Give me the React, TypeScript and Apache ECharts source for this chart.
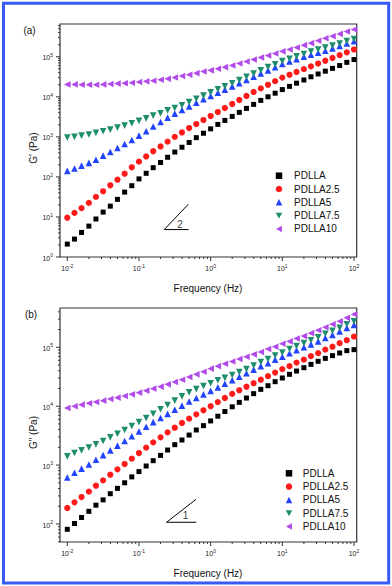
import React, { useEffect, useRef } from 'react';
import * as echarts from 'echarts';

// ---------- data ----------
const freqs = [
  0.01, 0.0126, 0.0158, 0.02, 0.0251, 0.0316, 0.0398, 0.0501, 0.0631, 0.0794,
  0.1, 0.126, 0.158, 0.2, 0.251, 0.316, 0.398, 0.501, 0.631, 0.794,
  1, 1.26, 1.58, 2, 2.51, 3.16, 3.98, 5.01, 6.31, 7.94,
  10, 12.6, 15.8, 20, 25.1, 31.6, 39.8, 50.1, 63.1, 79.4, 100,
];

const seriesNames = ['PDLLA', 'PDLLA2.5', 'PDLLA5', 'PDLLA7.5', 'PDLLA10'];

// Storage modulus G' (Pa)
const gPrimePDLLA = [2.1, 2.8, 4.1, 5.9, 8.9, 13.2, 18.6, 27.5, 41.7, 60.3, 89.1, 123, 170, 229, 309, 417, 550, 724, 955, 1230, 1585, 2042, 2570, 3236, 4074, 5129, 6457, 8128, 10000, 12300, 15140, 18200, 21880, 26300, 31620, 37150, 43650, 51290, 60260, 72440, 85110];
const gPrimePDLLA25 = [9.55, 12.6, 16.6, 22.4, 31.6, 43.7, 61.7, 85.1, 120, 174, 240, 324, 437, 575, 759, 1000, 1288, 1660, 2089, 2630, 3311, 4169, 5248, 6607, 8318, 10470, 13180, 16220, 19950, 24550, 30200, 35480, 41690, 48980, 57540, 67610, 79430, 93330, 109600, 128800, 151400];
const gPrimePDLLA5 = [141, 162, 191, 224, 269, 339, 417, 525, 661, 832, 1072, 1380, 1820, 2344, 3020, 3802, 4677, 5754, 7079, 8710, 10470, 12590, 15140, 18200, 21880, 26300, 31620, 38020, 45710, 54950, 66070, 75860, 87100, 100000, 112200, 125900, 141300, 162200, 186200, 213800, 245500];
const gPrimePDLLA75 = [955, 1000, 1072, 1148, 1259, 1380, 1514, 1698, 1905, 2188, 2512, 2884, 3388, 3890, 4571, 5248, 6166, 7413, 8913, 10720, 12880, 15490, 18200, 21880, 26300, 31620, 38020, 45710, 54950, 64570, 77620, 89130, 102300, 117500, 134900, 151400, 169800, 190500, 213800, 245500, 275400];
const gPrimePDLLA10 = [20420, 20420, 19950, 19950, 19950, 20420, 20890, 21380, 21880, 22390, 23440, 24270, 25120, 26610, 28180, 30200, 33110, 35480, 38900, 42660, 45710, 50120, 54950, 60260, 67610, 75860, 85110, 95500, 107200, 120200, 136500, 151400, 169800, 195000, 218800, 251200, 288400, 323600, 371500, 426600, 478600];

// Loss modulus G'' (Pa)
const gDoublePDLLA = [81.3, 102, 129, 164, 209, 257, 327, 403, 501, 631, 776, 966, 1189, 1462, 1803, 2223, 2667, 3236, 3945, 4677, 5623, 6761, 8128, 9772, 11610, 13770, 16330, 19320, 22280, 26060, 30130, 34750, 39540, 45080, 51290, 57810, 64860, 72110, 79980, 87700, 91200];
const gDoublePDLLA25 = [187, 233, 287, 355, 447, 551, 687, 847, 1042, 1285, 1603, 1977, 2432, 2958, 3597, 4315, 5188, 6138, 7278, 8531, 10000, 11750, 13800, 16220, 18620, 21380, 24550, 28180, 32360, 37150, 42660, 47860, 54950, 61660, 70790, 79430, 91200, 102300, 117500, 131800, 151400];
const gDoublePDLLA5 = [617, 741, 871, 1023, 1230, 1479, 1778, 2138, 2570, 3090, 3715, 4467, 5370, 6310, 7413, 8710, 10230, 12020, 13800, 15850, 18200, 20890, 23990, 27540, 31620, 36310, 41690, 47860, 53700, 61660, 69180, 79430, 89130, 100000, 112200, 125900, 144500, 162200, 186200, 213800, 239900];
const gDoublePDLLA75 = [1409, 1603, 1778, 1995, 2249, 2564, 2958, 3412, 3945, 4613, 5395, 6310, 7464, 8851, 10470, 12420, 14690, 17180, 19500, 21880, 24550, 27540, 30200, 33880, 38020, 42660, 48980, 56230, 63100, 72440, 81280, 93330, 104700, 117500, 131800, 147900, 169800, 190500, 213800, 245500, 275400];
const gDoublePDLLA10 = [9311, 9954, 10620, 11190, 11780, 12420, 13240, 13960, 14890, 15890, 16980, 18370, 19860, 21480, 23500, 25760, 28180, 31330, 34750, 38550, 43350, 47860, 52480, 57540, 63100, 69180, 75860, 83180, 93330, 102300, 114800, 125900, 141300, 154900, 173800, 195000, 218800, 245500, 275400, 316200, 363100];

const gPrimeSets = [gPrimePDLLA, gPrimePDLLA25, gPrimePDLLA5, gPrimePDLLA75, gPrimePDLLA10];
const gDoubleSets = [gDoublePDLLA, gDoublePDLLA25, gDoublePDLLA5, gDoublePDLLA75, gDoublePDLLA10];

// axis ranges
const xRange = [0.00791, 109.1];
const yRangeA = [1, 657000];
const yRangeB = [49.5, 464500];

// tick positions
const xMajorTicks = [0.01, 0.1, 1, 10, 100];
const xDecades = [0.01, 0.1, 1, 10];
const yMajorTicksA = [1, 10, 100, 1000, 10000, 100000];
const yDecadesA = [1, 10, 100, 1000, 10000, 100000];
const yMajorTicksB = [100, 1000, 10000, 100000];
const yDecadesB = [10, 100, 1000, 10000, 100000];
const minorMultipliers = [2, 3, 4, 5, 6, 7, 8, 9];

// slope guides
const slopeA = [[0.488, 20.8], [0.2255, 4.84], [0.492, 4.84]];
const slopeALabel = [[0.375, 6.5]];
const slopeB = [[0.624, 262], [0.243, 107], [0.63, 107]];
const slopeBLabel = [[0.448, 137]];

// ---------- styles ----------
const colors = ['#000000', '#ff1a1a', '#2244ff', '#1d8d6d', '#b04ae8'];
const symbols = ['rect', 'circle', 'triangle', 'path://M0,0L10,0L5,9Z', 'path://M9,0L9,10L0,5Z'];
const symbolSizes = [5, 6.2, 6.6, 6.6, 6.6];
const FONT = '"Liberation Sans", Arial, sans-serif';
const AXIS_COLOR = '#333';

function minorTicks(decades: number[], lo: number, hi: number) {
  const out: number[] = [];
  decades.forEach((d) => minorMultipliers.forEach((m) => {
    const v = d * m;
    if (v > lo && v < hi) out.push(v);
  }));
  return out;
}

function powLabel(v: number) {
  const l = Math.log10(v);
  const e = Math.round(l);
  if (Math.abs(l - e) > 1e-4) return '';
  return '{b|10}{s|' + e + '}';
}

const richLabel = {
  b: { fontSize: 7, lineHeight: 9, verticalAlign: 'bottom', color: '#222', fontFamily: FONT },
  s: { fontSize: 5, lineHeight: 5, verticalAlign: 'top', color: '#222', fontFamily: FONT },
};

function xTickSeries(xi: number, yMin: number, lo: number, hi: number) {
  const data = xMajorTicks.map((v) => [v, yMin, 4]).concat(minorTicks(xDecades, lo, hi).map((v) => [v, yMin, 2]));
  return {
    type: 'custom', xAxisIndex: xi, yAxisIndex: xi, data, encode: { x: 0, y: 1 }, silent: true, clip: false, z: 5,
    renderItem: (_p: any, api: any) => {
      const p = api.coord([api.value(0), api.value(1)]);
      const len = api.value(2);
      return { type: 'line', shape: { x1: p[0], y1: p[1], x2: p[0], y2: p[1] + len }, style: { stroke: AXIS_COLOR, lineWidth: 1 } };
    },
  };
}

function yTickSeries(yi: number, xMin: number, majors: number[], decades: number[], lo: number, hi: number) {
  const data = majors.map((v) => [xMin, v, 4]).concat(minorTicks(decades, lo, hi).map((v) => [xMin, v, 2]));
  return {
    type: 'custom', xAxisIndex: yi, yAxisIndex: yi, data, encode: { x: 0, y: 1 }, silent: true, clip: false, z: 5,
    renderItem: (_p: any, api: any) => {
      const p = api.coord([api.value(0), api.value(1)]);
      const len = api.value(2);
      return { type: 'line', shape: { x1: p[0] - len, y1: p[1], x2: p[0], y2: p[1] }, style: { stroke: AXIS_COLOR, lineWidth: 1 } };
    },
  };
}

function slopeSeries(idx: number, pts: number[][], labelPos: number[][], text: string) {
  return [
    {
      type: 'line', xAxisIndex: idx, yAxisIndex: idx, data: pts, symbol: 'none', silent: true, z: 4,
      lineStyle: { color: '#000', width: 1 },
    },
    {
      type: 'scatter', xAxisIndex: idx, yAxisIndex: idx, data: labelPos, symbolSize: 1, silent: true, z: 4,
      itemStyle: { color: 'rgba(0,0,0,0)' },
      label: { show: true, position: 'inside', formatter: text, fontSize: 10, color: '#000', fontFamily: FONT },
    },
  ];
}

function buildOption() {
  const grids = [
    { left: 60, top: 24, width: 296.7, height: 233 },
    { left: 60, top: 308, width: 296.7, height: 234 },
  ].map((g) => ({ ...g, show: true, borderColor: AXIS_COLOR, borderWidth: 1.2, backgroundColor: 'transparent' }));

  const xAxes = [0, 1].map((i) => ({
    type: 'log', logBase: 10, gridIndex: i, min: xRange[0], max: xRange[1],
    axisLine: { show: false }, axisTick: { show: false }, splitLine: { show: false },
    axisLabel: { formatter: powLabel, rich: richLabel, margin: 6, showMinLabel: false, showMaxLabel: false },
  }));

  const yAxes = [yRangeA, yRangeB].map((r, i) => ({
    type: 'log', logBase: 10, gridIndex: i, min: r[0], max: r[1],
    axisLine: { show: false }, axisTick: { show: false }, splitLine: { show: false },
    axisLabel: { formatter: powLabel, rich: richLabel, margin: 7 },
  }));

  const dataSeries: any[] = [];
  [gPrimeSets, gDoubleSets].forEach((sets, panel) => {
    sets.forEach((vals, k) => {
      dataSeries.push({
        type: 'scatter', name: seriesNames[k], xAxisIndex: panel, yAxisIndex: panel,
        data: freqs.map((f, i) => [f, vals[i]]),
        symbol: symbols[k], symbolSize: symbolSizes[k],
        itemStyle: { color: colors[k], opacity: 1 }, z: 3,
      });
    });
  });

  const legendBase = {
    data: seriesNames, orient: 'vertical', itemWidth: 6.5, itemHeight: 6.5, itemGap: 1.3, selectedMode: false,
  };
  const legendText = (padLeft: number) => ({
    fontSize: 10, lineHeight: 12, color: '#111', fontFamily: FONT, padding: [0, 0, 0, padLeft],
  });

  const txt = (text: string, x: number, y: number, extra: any = {}) => ({
    type: 'text', x, y, silent: true, ...extra,
    style: { text, fontSize: 10, fontFamily: FONT, fill: '#111', textAlign: 'center', textVerticalAlign: 'middle' },
  });

  return {
    animation: false,
    textStyle: { fontFamily: FONT },
    color: colors,
    grid: grids,
    xAxis: xAxes,
    yAxis: yAxes,
    legend: [
      { ...legendBase, left: 270.75, top: 164.7, textStyle: legendText(6.8) },
      { ...legendBase, left: 280.75, top: 462.3, textStyle: legendText(5.5) },
    ],
    series: [
      ...dataSeries,
      xTickSeries(0, yRangeA[0], xRange[0], xRange[1]),
      xTickSeries(1, yRangeB[0], xRange[0], xRange[1]),
      yTickSeries(0, xRange[0], yMajorTicksA, yDecadesA, yRangeA[0], yRangeA[1]),
      yTickSeries(1, xRange[0], yMajorTicksB, yDecadesB, yRangeB[0], yRangeB[1]),
      ...slopeSeries(0, slopeA, slopeALabel, '2'),
      ...slopeSeries(1, slopeB, slopeBLabel, '1'),
    ],
    graphic: [
      { type: 'rect', silent: true, shape: { x: 3.5, y: 3.3, width: 385.2, height: 579.7 }, style: { fill: 'none', stroke: '#3a5af5', lineWidth: 3 } },
      txt('(a)', 29.5, 30),
      txt('(b)', 31, 314),
      txt("G' (Pa)", 33, 148, { rotation: Math.PI / 2 }),
      txt('G" (Pa)', 33, 432.5, { rotation: Math.PI / 2 }),
      txt('Frequency (Hz)', 208, 288),
      txt('Frequency (Hz)', 208, 573),
    ],
  };
}

export default function App() {
  const ref = useRef<HTMLDivElement>(null);
  useEffect(() => {
    document.body.style.margin = '0';
    if (!ref.current) return;
    const chart = echarts.init(ref.current, undefined, { renderer: 'svg' });
    chart.setOption(buildOption() as any);
    return () => chart.dispose();
  }, []);
  return <div ref={ref} style={{ width: 392, height: 586, background: '#fff' }} />;
}
